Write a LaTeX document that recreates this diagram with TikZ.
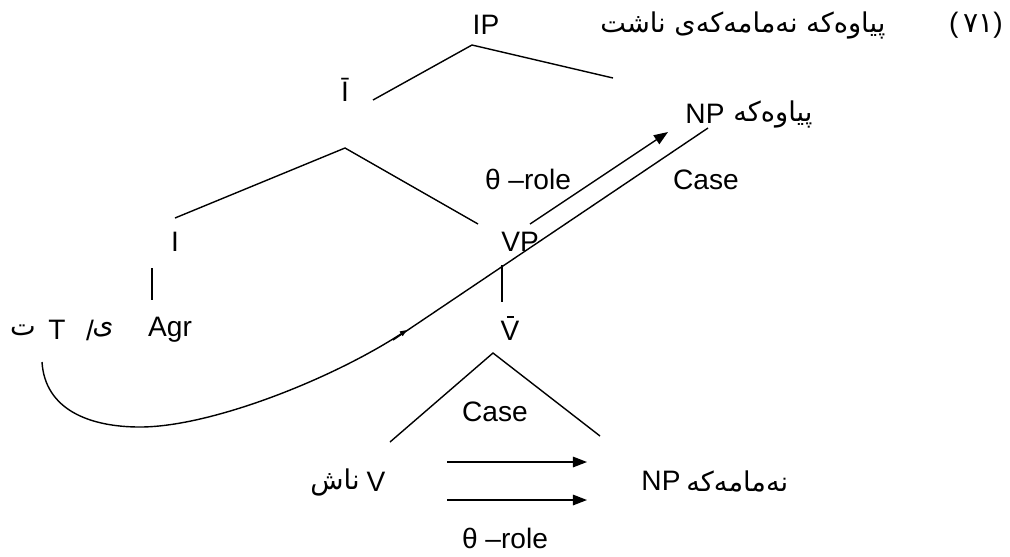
\documentclass[tikz,border=0pt]{standalone}
\usepackage{fontspec}
\setmainfont{Liberation Sans}
\newfontfamily\ku[Script=Arabic]{DejaVu Sans}
\TeXXeTstate=1
\usetikzlibrary{arrows.meta}
\newcommand{\vbarV}{\leavevmode\rlap{\hspace{0.22em}\rule[0.8em]{0.24em}{0.06em}}V}
\begin{document}
\begin{tikzpicture}[x=0.02cm,y=-0.02cm,
  every node/.style={inner sep=0pt,font=\fontsize{16}{19}\selectfont},
  branch/.style={line width=0.8pt},
  arr/.style={line width=0.8pt,-{Triangle[length=8pt,width=6pt]}},
  kurd/.style={font=\fontsize{15.5}{19}\selectfont\ku}]
\useasboundingbox[fill=white] (0,0) rectangle (1010,556);
% title
\node (ip) at (486,25) {IP};
\node[kurd,anchor=west] (title) at (600,25) {\beginR پیاوەکە نەمامەکەی ناشت\endR};
\node[anchor=east] (num) at (1003,25) {(\,{\ku ٧١})};
% level 1
\node (ibar) at (345,90) {Ī};
\node (np1) at (705,114) {NP};
\node[kurd,anchor=west] (np1k) at (733,114) {\beginR پیاوەکە\endR};
\coordinate (ipA) at (472,45);
\coordinate (ipL) at (373,100);
\coordinate (ipR) at (613,78);
\draw[branch] (ipL) -- (ipA) -- (ipR);
% level 2
\node (i) at (175,242) {I};
\node (vp) at (520,242) {VP};
\coordinate (ibA) at (345,148);
\coordinate (ibL) at (175,218);
\coordinate (ibR) at (478,224);
\draw[branch] (ibL) -- (ibA) -- (ibR);
\coordinate (iT) at (152,268);
\coordinate (iB) at (152,300);
\draw[branch] (iT) -- (iB);
\coordinate (vpT) at (502,265);
\coordinate (vpB) at (502,302);
\draw[branch] (vpT) -- (vpB);
% level 3
\node (agr) at (170,330) {Agr};
\node[kurd] (ye) at (103,330) {ی};
\node (sl) at (90,330) {/};
\node (t) at (57,330) {T};
\node[kurd] (te) at (23,330) {ت};
\node (vbar) at (510,328) {\vbarV};
\coordinate (vbA) at (493,353);
\coordinate (vbL) at (390,442);
\coordinate (vbR) at (600,436);
\draw[branch] (vbL) -- (vbA) -- (vbR);
\node (case2) at (495,412) {Case};
% level 4
\node[kurd] (nash) at (335,482) {\beginR ناش\endR};
\node (v) at (376,482) {V};
\node (np2) at (661,481) {NP};
\node[kurd,anchor=west] (np2k) at (686,481) {\beginR نەمامەکە\endR};
\coordinate (a1s) at (447,462);
\coordinate (a1e) at (587,462);
\coordinate (a2s) at (447,500);
\coordinate (a2e) at (587,500);
\draw[arr] (a1s) -- (a1e);
\draw[arr] (a2s) -- (a2e);
\node (theta2) at (505,538) {θ –role};
% movement arrows
\node (theta1) at (528,179) {θ –role};
\node (case1) at (706,180) {Case};
\coordinate (thS) at (530,224);
\coordinate (thE) at (668,132);
\draw[arr] (thS) -- (thE);
\coordinate (csS) at (393,340);
\coordinate (csE) at (708,128);
\draw[branch] (csS) -- (csE);
\coordinate (cvS) at (42,362);
\coordinate (cvM) at (140,427);
\coordinate (cvE) at (407,330);
\draw[line width=0.8pt,-{Triangle[length=4pt,width=3pt]}] (cvS) .. controls (45,410) and (90,427) .. (cvM)
  .. controls (210,427) and (330,380) .. (cvE);
\end{tikzpicture}
\end{document}
